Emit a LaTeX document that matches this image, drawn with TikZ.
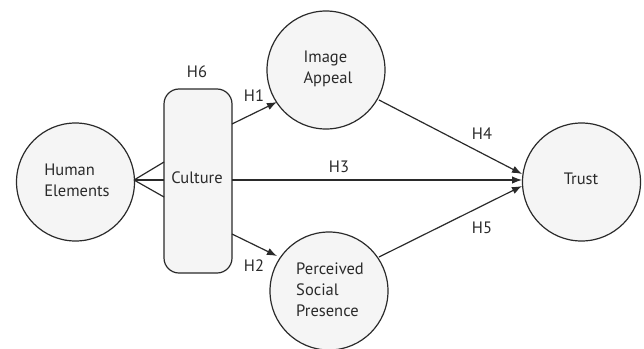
\documentclass[tikz,border=0pt]{standalone}
\usepackage{fontspec}
\setmainfont{PT Sans}
\usetikzlibrary{arrows.meta}
\definecolor{shapefill}{HTML}{F5F5F5}
\definecolor{ink}{HTML}{2A2A2A}
\tikzset{
  x=1pt,y=-1pt,
  construct/.style={circle,draw=ink,fill=shapefill,line width=1.2pt,minimum size=118pt,inner sep=0pt},
  moderator/.style={draw=ink,fill=shapefill,line width=1.2pt,rounded corners=15pt,minimum width=68pt,minimum height=184pt,inner sep=0pt},
  lbl/.style={font=\fontsize{16.5}{21}\selectfont,text=ink,inner sep=0pt},
  stacked/.style={lbl,align=left},
  link/.style={draw=ink,line width=1.2pt},
  arrowlink/.style={link,-{Latex[length=10pt,width=7.5pt]}}
}
\begin{document}
\begin{tikzpicture}
\useasboundingbox (0,0) rectangle (644,348);
\node[moderator] (culture) at (198,181) {};
\node[construct] (human) at (75.5,182) {};
\node[construct] (image) at (326,70) {};
\node[construct] (social) at (329,291) {};
\node[construct] (trust) at (581.5,182) {};
\node[lbl] (tculture) at (197,178) {Culture};
\node[stacked,anchor=center] (thuman) at (77,180) {Human\\Elements};
\node[stacked,anchor=center] (timage) at (328,69) {Image\\Appeal};
\node[stacked,anchor=center] (tsocial) at (330,290) {Perceived\\Social\\Presence};
\node[lbl] (ttrust) at (581,179) {Trust};
\node[lbl] (h6) at (197,72) {H6};
\node[lbl] (h1) at (254,96) {H1};
\node[lbl] (h2) at (254,266) {H2};
\node[lbl] (h3) at (339,167) {H3};
\node[lbl] (h4) at (482,134) {H4};
\node[lbl] (h5) at (482,228) {H5};
\coordinate (hs) at (134,180);
\coordinate (c1) at (164,162);
\coordinate (c2) at (164,180);
\coordinate (c3) at (164,197);
\coordinate (c4) at (232,124);
\coordinate (c5) at (232,180);
\coordinate (c6) at (232,234);
\coordinate (i1) at (277,102);
\coordinate (s1) at (277,256);
\coordinate (i2) at (379,100);
\coordinate (s2) at (379,257);
\coordinate (t1) at (522,174);
\coordinate (t2) at (522,180);
\coordinate (t3) at (522,186);
\draw[link] (hs) -- (c1);
\draw[link] (hs) -- (c2);
\draw[link] (hs) -- (c3);
\draw[arrowlink] (c4) -- (i1);
\draw[arrowlink] (c5) -- (t2);
\draw[arrowlink] (c6) -- (s1);
\draw[arrowlink] (i2) -- (t1);
\draw[arrowlink] (s2) -- (t3);
\end{tikzpicture}
\end{document}
